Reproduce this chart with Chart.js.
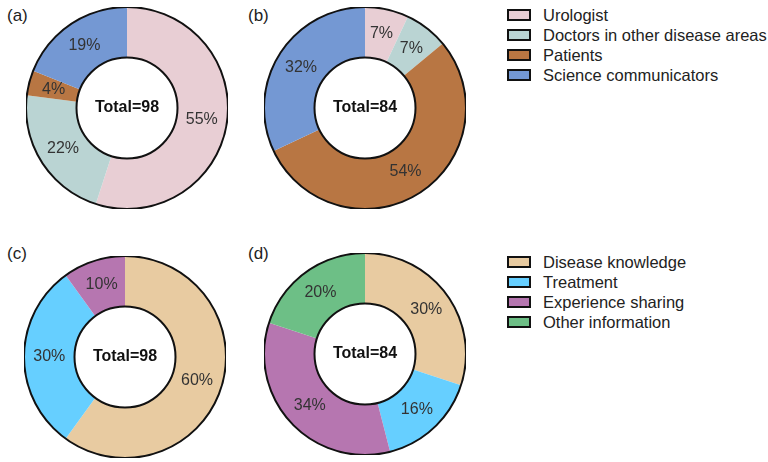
<!DOCTYPE html>
<html>
<head>
<meta charset="utf-8">
<script src="https://cdn.jsdelivr.net/npm/chart.js@4"></script>
<style>
  body { margin: 0; background: #fff; font-family: "Liberation Sans", Arial, sans-serif; }
  #page { position: relative; width: 768px; height: 462px; }
  .box { position: absolute; width: 202px; height: 202px; }
  .tag { position: absolute; font-size: 17px; color: #222; }
  .legend { position: absolute; left: 507px; font-size: 16.5px; color: #222; }
  .legend div { height: 20px; display: flex; align-items: center; }
  .legend span.sw { display: inline-block; width: 20px; height: 8px; border: 2px solid #111; margin-right: 12px; }
</style>
</head>
<body>
<div id="page">
  <div class="tag" style="left:7px;top:6px">(a)</div>
  <div class="tag" style="left:248px;top:6px">(b)</div>
  <div class="tag" style="left:7px;top:244px">(c)</div>
  <div class="tag" style="left:248px;top:244px">(d)</div>
  <div class="box" style="left:26px;top:7px"><canvas id="chart-a"></canvas></div>
  <div class="box" style="left:264px;top:7px"><canvas id="chart-b"></canvas></div>
  <div class="box" style="left:24px;top:256px"><canvas id="chart-c"></canvas></div>
  <div class="box" style="left:264px;top:253px"><canvas id="chart-d"></canvas></div>
  <div class="legend" id="legend-top" style="top:5px"></div>
  <div class="legend" id="legend-bottom" style="top:252px"></div>
</div>
<script>
const sourceLabels = ["Urologist", "Doctors in other disease areas", "Patients", "Science communicators"];
const sourceColors = ["#E8CED4", "#BAD4D3", "#B87643", "#7498D3"];
const contentLabels = ["Disease knowledge", "Treatment", "Experience sharing", "Other information"];
const contentColors = ["#E8CBA1", "#66CFFF", "#B676B0", "#6DBF86"];

const valuesA = [55, 22, 4, 19];
const valuesB = [7, 7, 54, 32];
const valuesC = [60, 30, 10, 0];
const valuesD = [30, 16, 34, 20];
const totalA = 98;
const totalB = 84;
const totalC = 98;
const totalD = 84;

const ringPlugin = {
  id: "ring",
  afterDatasetsDraw(chart, args, opts) {
    const c = chart.ctx;
    const arcs = chart.getDatasetMeta(0).data;
    const values = chart.data.datasets[0].data;
    const first = arcs[0];
    const cx = first.x, cy = first.y;
    const outer = first.outerRadius, inner = first.innerRadius;
    c.save();
    c.strokeStyle = "#111";
    c.lineWidth = 2;
    c.beginPath();
    c.arc(cx, cy, outer, 0, Math.PI * 2);
    c.stroke();
    c.beginPath();
    c.arc(cx, cy, inner, 0, Math.PI * 2);
    c.stroke();

    c.fillStyle = "#333";
    c.font = "16px 'Liberation Sans', Arial, sans-serif";
    c.textAlign = "center";
    c.textBaseline = "middle";
    arcs.forEach((arc, i) => {
      if (!values[i]) return;
      const mid = (arc.startAngle + arc.endAngle) / 2;
      const r = (outer + inner) / 2;
      c.fillText(values[i] + "%", cx + Math.cos(mid) * r, cy + Math.sin(mid) * r);
    });

    c.fillStyle = "#111";
    c.font = "bold 16px 'Liberation Sans', Arial, sans-serif";
    c.fillText("Total=" + opts.total, cx, cy);
    c.restore();
  }
};

function makeDonut(id, labels, colors, values, total) {
  new Chart(document.getElementById(id), {
    type: "doughnut",
    data: {
      labels: labels,
      datasets: [{
        data: values,
        backgroundColor: colors,
        borderWidth: 0,
        hoverOffset: 0,
      }],
    },
    options: {
      responsive: true,
      maintainAspectRatio: false,
      animation: false,
      cutout: "50%",
      layout: { padding: 0 },
      plugins: {
        legend: { display: false },
        tooltip: { enabled: false },
        ring: { total: total },
      },
    },
    plugins: [ringPlugin],
  });
}

makeDonut("chart-a", sourceLabels, sourceColors, valuesA, totalA);
makeDonut("chart-b", sourceLabels, sourceColors, valuesB, totalB);
makeDonut("chart-c", contentLabels, contentColors, valuesC, totalC);
makeDonut("chart-d", contentLabels, contentColors, valuesD, totalD);

function buildLegend(id, labels, colors) {
  const el = document.getElementById(id);
  labels.forEach((label, i) => {
    const row = document.createElement("div");
    const sw = document.createElement("span");
    sw.className = "sw";
    sw.style.background = colors[i];
    row.appendChild(sw);
    row.appendChild(document.createTextNode(label));
    el.appendChild(row);
  });
}

buildLegend("legend-top", sourceLabels, sourceColors);
buildLegend("legend-bottom", contentLabels, contentColors);
</script>
</body>
</html>
